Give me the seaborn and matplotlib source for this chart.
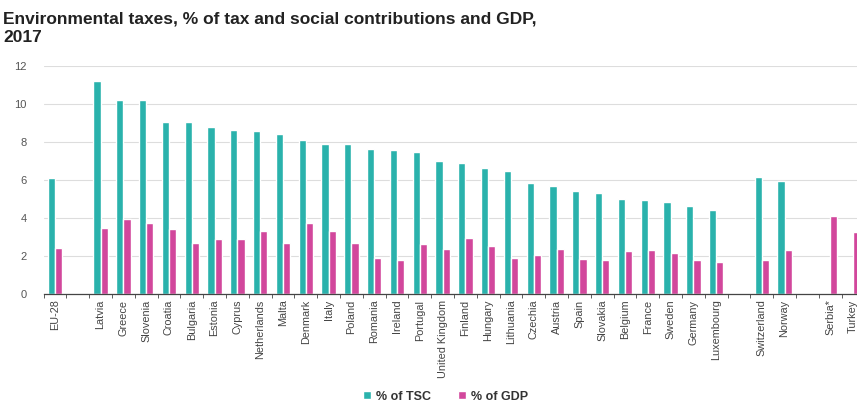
import matplotlib
matplotlib.use("Agg")
import matplotlib.pyplot as plt
import matplotlib.ticker as mticker
import numpy as np
import pandas as pd
import seaborn as sns

# values (Eurostat, 2017)
countries = ["EU-28", "Latvia", "Greece", "Slovenia", "Croatia", "Bulgaria", "Estonia",
             "Cyprus", "Netherlands", "Malta", "Denmark", "Italy", "Poland", "Romania",
             "Ireland", "Portugal", "United Kingdom", "Finland", "Hungary", "Lithuania",
             "Czechia", "Austria", "Spain", "Slovakia", "Belgium", "France", "Sweden",
             "Germany", "Luxembourg", "Switzerland", "Norway", "Serbia*", "Turkey"]
pct_tsc = [6.12, 11.21, 10.20, 10.20, 9.06, 9.06, 8.80, 8.62, 8.59, 8.41, 8.12, 7.91,
           7.87, 7.64, 7.57, 7.49, 7.00, 6.87, 6.61, 6.45, 5.84, 5.70, 5.41, 5.33, 4.99,
           4.93, 4.86, 4.62, 4.41, 6.17, 5.95, np.nan, np.nan]
pct_gdp = [2.41, 3.46, 3.97, 3.73, 3.41, 2.66, 2.87, 2.90, 3.31, 2.67, 3.73, 3.32, 2.68,
           1.91, 1.77, 2.61, 2.38, 2.97, 2.52, 1.91, 2.03, 2.38, 1.85, 1.77, 2.24, 2.31,
           2.17, 1.80, 1.70, 1.78, 2.31, 4.11, 3.24]
series = ["% of TSC", "% of GDP"]

# empty slots separate the groups on the axis
order = (["EU-28", " "] + countries[1:29] + ["  "] + countries[29:31] + ["   "]
         + countries[31:])

df = pd.DataFrame({
    "country": countries * 2,
    "series": [series[0]] * len(countries) + [series[1]] * len(countries),
    "value": pct_tsc + pct_gdp,
})

sns.set_style("white")
plt.rcParams["font.family"] = ["Liberation Sans", "DejaVu Sans"]

fig = plt.figure(figsize=(8.57, 4.04), dpi=100)
unit = 22.8 / 857
ax = fig.add_axes([43.6 / 857, 1 - 294 / 404, 36 * unit, (294 - 66) / 404])

sns.barplot(data=df, x="country", y="value", hue="series", order=order,
            hue_order=series, palette=["#2ab2ac", "#d2479c"], width=0.64,
            saturation=1, ax=ax, legend=True)

ax.set_xlim(-0.5, 35.5)
ax.set_ylim(0, 12)
ax.set_yticks(range(0, 13, 2))
ax.yaxis.grid(True, color="#dddddd", linewidth=0.8)
ax.set_axisbelow(True)
ax.set_xlabel("")
ax.set_ylabel("")
for s in ["top", "right", "left"]:
    ax.spines[s].set_visible(False)
ax.spines["bottom"].set_color("#444444")
ax.spines["bottom"].set_linewidth(0.9)

ax.set_xticks(range(len(order)))
ax.set_xticklabels([c.strip() for c in order], rotation=90, fontsize=7.8,
                   color="#444444")
ax.xaxis.set_minor_locator(mticker.FixedLocator(np.arange(-0.5, len(order), 1)))
ax.tick_params(axis="x", which="major", length=0, pad=4)
ax.tick_params(axis="x", which="minor", length=3, color="#444444", bottom=True)
ax.tick_params(axis="y", length=0, labelsize=8, labelcolor="#555555", pad=12)

ax.legend(loc="lower center", bbox_to_anchor=(0.52, -0.015),
          bbox_transform=fig.transFigure, ncol=2, frameon=False,
          handlelength=0.6, handleheight=0.6, handletextpad=0.4, columnspacing=2.2,
          prop={"weight": "bold", "size": 9}, labelcolor="#333333", borderaxespad=0.2)

fig.text(0.004, 1 - 12 / 404,
         "Environmental taxes, % of tax and social contributions and GDP,\n2017",
         fontsize=12.5, fontweight="bold", color="#222222", va="top",
         linespacing=1.25)

fig.savefig("out.png", dpi=100)
